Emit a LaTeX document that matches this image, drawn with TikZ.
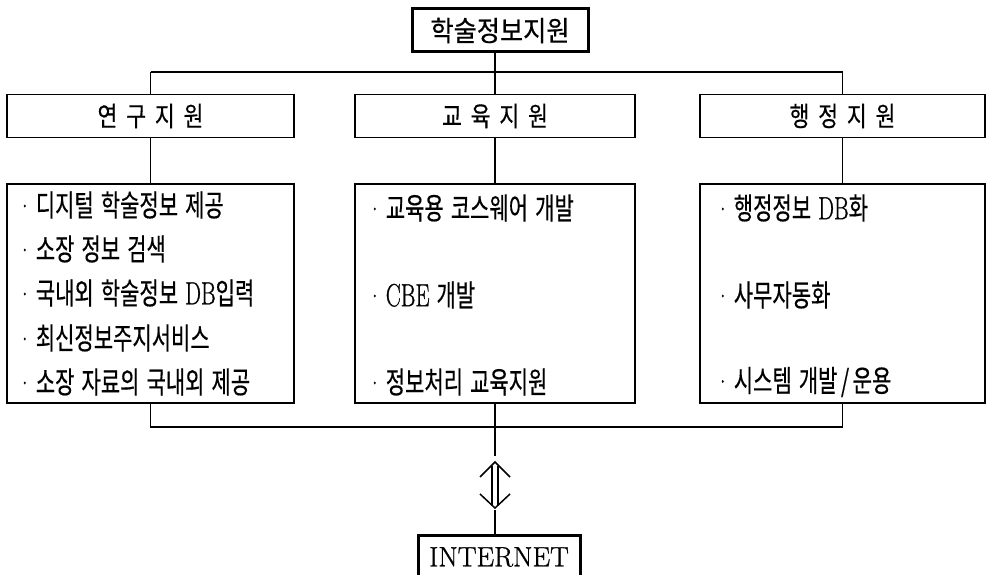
\documentclass[tikz,border=0pt]{standalone}
\usepackage{fontspec}
\usepackage{graphicx}
\newfontfamily\kr[WordSpace=1.5, FakeBold=0.5]{Noto Sans CJK KR}
\newfontfamily\latfont[FakeBold=1]{Latin Modern Roman}
\tikzset{
 box/.style={draw, line width=1.8pt, inner sep=0pt, minimum height=43pt},
 bigbox/.style={draw, line width=1.8pt, inner sep=0pt, minimum height=219pt},
 thickbox/.style={draw, line width=3pt, inner sep=0pt},
 item/.style={anchor=west, inner sep=0pt},
 link/.style={line width=1.8pt},
}
\newcommand{\itm}[1]{\scalebox{0.7}[1]{\fontsize{30pt}{30pt}\selectfont\kr #1}}
\newcommand{\head}[1]{\scalebox{0.8}[1]{\fontsize{27pt}{27pt}\selectfont\kr #1}}
\newcommand{\lat}[1]{{\fontsize{32pt}{32pt}\selectfont\latfont #1}}
\newcommand{\dt}{{\latfont ·}\hspace{5pt}}
\newcommand{\gap}{\hspace{11pt}}
\begin{document}
\begin{tikzpicture}[x=1pt,y=-1pt]
\useasboundingbox (0,0) rectangle (987,575);
% top
\node[thickbox, minimum width=176pt, minimum height=43pt] (top) at (500,30.5)
  {\scalebox{0.9}[1]{\fontsize{28pt}{28pt}\selectfont\kr 학술정보지원}};
% level 2
\node[box, minimum width=287pt] (r) at (150.5,116) {\head{연\gap 구\gap 지\gap 원}};
\node[box, minimum width=280pt] (e) at (495,116) {\head{교\gap 육\gap 지\gap 원}};
\node[box, minimum width=285pt] (a) at (842.5,116) {\head{행\gap 정\gap 지\gap 원}};
% level 3
\node[bigbox, minimum width=287pt] (rl) at (150.5,293.5) {};
\node[bigbox, minimum width=280pt] (el) at (495,293.5) {};
\node[bigbox, minimum width=285pt] (al) at (842.5,293.5) {};
% items
\node[item] (r1) at (17,205) {\itm{\dt 디지털 학술정보 제공}};
\node[item] (r2) at (17,249) {\itm{\dt 소장 정보 검색}};
\node[item] (r3) at (17,293) {\itm{\dt 국내외 학술정보 \lat{DB}입력}};
\node[item] (r4) at (17,338) {\itm{\dt 최신정보주지서비스}};
\node[item] (r5) at (17,382) {\itm{\dt 소장 자료의 국내외 제공}};
\node[item] (e1) at (367,208) {\itm{\dt 교육용 코스웨어 개발}};
\node[item] (e2) at (367,295) {\itm{\dt \lat{CBE} 개발}};
\node[item] (e3) at (367,382) {\itm{\dt 정보처리 교육지원}};
\node[item] (a1) at (715,208) {\itm{\dt 행정정보 \lat{DB}화}};
\node[item] (a2) at (715,295) {\itm{\dt 사무자동화}};
\node[item] (a3) at (715,382) {\itm{\dt 시스템 개발\,/\,운용}};
% internet
\node[thickbox, minimum width=162pt, minimum height=44pt] (net) at (499,557)
  {\fontsize{28pt}{28pt}\selectfont\latfont INTERNET};
% connectors top
\coordinate (tl) at (r.north |- 0,72);
\coordinate (tr) at (a.north |- 0,72);
\draw[link] (top.south -| e.north) -- (e.north);
\draw[link] (tl) -- (tr);
\draw[link] (tl) -- (r.north);
\draw[link] (tr) -- (a.north);
\draw[link] (r.south) -- (rl.north);
\draw[link] (e.south) -- (el.north);
\draw[link] (a.south) -- (al.north);
% connectors bottom
\coordinate (bl) at (rl.south |- 0,427);
\coordinate (br) at (al.south |- 0,427);
\coordinate (au) at (el.south |- 0,456);
\coordinate (ad) at (el.south |- 0,510);
\coordinate (ac) at (el.south |- 0,485);
\draw[link] (rl.south) -- (bl) -- (br) -- (al.south);
\draw[link] (el.south) -- (au);
\draw[link] (ad) -- (net.north -| ad);
% double arrow
\begin{scope}[shift={(ac)}]
 \draw[line width=1.5pt, line join=miter] (-15,-8) -- (0,-23) -- (15,-8);
 \draw[line width=1.5pt, line join=miter] (-15,9) -- (0,23) -- (15,9);
 \draw[line width=1.5pt] (-3,-19.5) -- (-3,19.5);
 \draw[line width=1.5pt] (3,-19.5) -- (3,19.5);
\end{scope}
\end{tikzpicture}
\end{document}
